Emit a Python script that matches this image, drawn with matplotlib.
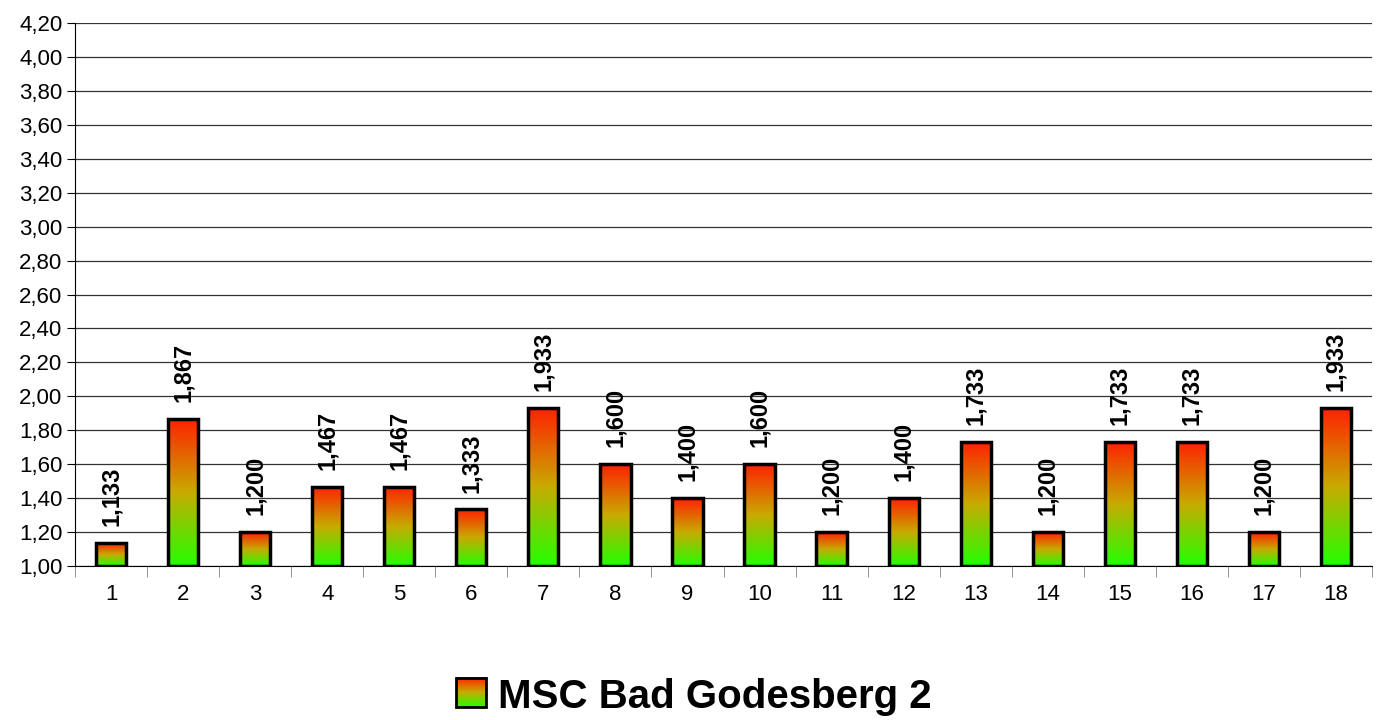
import numpy as np
import matplotlib
matplotlib.use("Agg")
import matplotlib.pyplot as plt
from matplotlib.colors import LinearSegmentedColormap
from matplotlib.patches import Patch
from matplotlib.legend_handler import HandlerBase

plt.rcParams['font.family'] = ['Liberation Sans', 'DejaVu Sans']

# Daten
rounds = [str(i) for i in range(1, 19)]
values = [1.133, 1.867, 1.200, 1.467, 1.467, 1.333, 1.933, 1.600, 1.400,
          1.600, 1.200, 1.400, 1.733, 1.200, 1.733, 1.733, 1.200, 1.933]
team = "MSC Bad Godesberg 2"

ymin, ymax = 1.0, 4.2
bar_w = 0.42

cmap = LinearSegmentedColormap.from_list(
    "gr", [(0.0, "#22ff00"), (0.5, "#c8aa00"), (1.0, "#ff2000")])
grad = np.linspace(0, 1, 256).reshape(-1, 1)

fig = plt.figure(figsize=(13.88, 7.2), dpi=100)
ax = fig.add_axes([75 / 1388, 1 - 566 / 720, 1297 / 1388, 543 / 720])

x = np.arange(len(rounds))
for xi, v in zip(x, values):
    ax.imshow(grad, cmap=cmap, origin="lower", aspect="auto",
              extent=[xi - bar_w / 2, xi + bar_w / 2, ymin, v], zorder=2)
    ax.bar(xi, v - ymin, bottom=ymin, width=bar_w, facecolor="none",
           edgecolor="black", linewidth=2.5, zorder=3)
    ax.text(xi, v + 0.1, f"{v:.3f}".replace(".", ","), rotation=90,
            ha="center", va="bottom", fontsize=17, fontweight="bold", zorder=4)

ax.set_xlim(-0.5, len(rounds) - 0.5)
ax.set_ylim(ymin, ymax)
yt = np.arange(1.0, 4.21, 0.2)
ax.set_yticks(yt)
ax.set_yticklabels([f"{t:.2f}".replace(".", ",") for t in yt], fontsize=16)
ax.set_xticks(x)
ax.set_xticklabels(rounds, fontsize=16)
ax.set_xticks(np.arange(-0.5, len(rounds)), minor=True)
ax.tick_params(axis="x", which="major", length=0, pad=13)
ax.tick_params(axis="x", which="minor", length=8, color="#808080")
ax.tick_params(axis="y", length=6, pad=3)
ax.grid(axis="y", color="#333333", linewidth=0.9, zorder=0)
ax.set_axisbelow(True)
for s in ["top", "right"]:
    ax.spines[s].set_visible(False)
ax.spines["left"].set_color("black")
ax.spines["bottom"].set_color("black")


class GradHandler(HandlerBase):
    def create_artists(self, legend, orig, xd, yd, w, h, fs, trans):
        from matplotlib.image import BboxImage
        from matplotlib.transforms import Bbox, TransformedBbox
        from matplotlib.patches import Rectangle
        bb = TransformedBbox(Bbox.from_bounds(xd, yd, w, h), trans)
        img = BboxImage(bb, cmap=cmap, origin="lower")
        img.set_data(grad)
        r = Rectangle((xd, yd), w, h, facecolor="none", edgecolor="black",
                      linewidth=2, transform=trans)
        return [img, r]


h = Patch(label=team)
fig.legend(handles=[h], labels=[team], handler_map={Patch: GradHandler()},
           loc="center", bbox_to_anchor=(0.5, 1 - 697 / 720), frameon=False,
           prop={"size": 29, "weight": "bold"}, handlelength=0.75,
           handleheight=0.75, handletextpad=0.3)

fig.savefig("out.png", dpi=100)
